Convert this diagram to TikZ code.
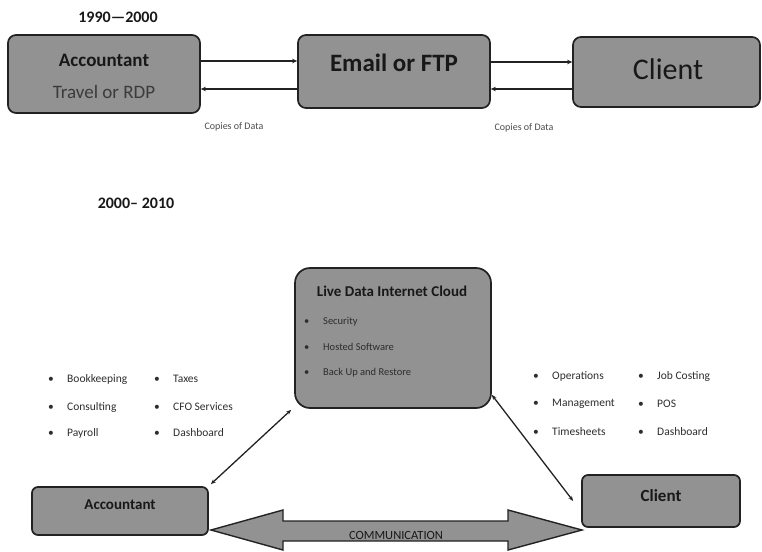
\documentclass[tikz,border=0pt]{standalone}
\usepackage{fontspec}
\setmainfont{Carlito}
\usetikzlibrary{arrows.meta}
\definecolor{boxgray}{RGB}{146,146,146}
\definecolor{edgec}{RGB}{34,34,34}
\definecolor{ink}{RGB}{24,24,24}
\definecolor{soft}{RGB}{75,75,75}
\definecolor{itemc}{RGB}{45,45,45}
\newcommand{\fsz}[1]{\fontsize{#1}{#1}\selectfont}
\newcommand{\bul}[1]{\makebox[19pt][l]{\textbullet}#1}
\begin{document}
\begin{tikzpicture}[x=1pt,y=-1pt,
  gbox/.style={draw=edgec, fill=boxgray, line width=1.7pt, rounded corners=#1, inner sep=0pt},
  lbl/.style={text=ink, inner sep=0pt},
  itemL/.style={anchor=west, inner sep=0pt, text=itemc, font=\fsz{11.5}},
  itemC/.style={anchor=west, inner sep=0pt, text=itemc, font=\fsz{10.5}},
  arr/.style={draw=edgec, line width=1.6pt, -{Stealth[length=5pt,width=4.5pt]}},
  darr/.style={draw=edgec, line width=1.3pt, {Stealth[length=5pt,width=4pt]}-{Stealth[length=5pt,width=4pt]}},
  note/.style={text=soft, font=\fsz{10}, inner sep=0pt}
]
\useasboundingbox (0,0) rectangle (762,551);
\clip (0,0) rectangle (762,551);

% ---------- 1990-2000 ----------
\node[lbl, font=\bfseries\fsz{16}] (era1) at (118,17) {1990—2000};

\node[gbox=8pt, minimum width=192pt, minimum height=78pt] (acc1) at (104,74) {};
\node[lbl, font=\bfseries\fsz{19}] (acc1a) at (104,60) {Accountant};
\node[lbl, font=\fsz{19}, text=ink!85] (acc1b) at (104,92) {Travel or RDP};

\node[gbox=8pt, minimum width=192pt, minimum height=73pt] (email) at (394,71.5) {};
\node[lbl, font=\bfseries\fsz{25}] (emailt) at (394,63) {Email or FTP};

\node[gbox=8pt, minimum width=187pt, minimum height=70pt] (cli1) at (666.5,72) {};
\node[lbl, font=\fsz{30}] (cli1t) at (668,69) {Client};

\coordinate (ya) at (0,61);
\coordinate (yb) at (0,89);
\draw[arr] (acc1.east |- ya) -- (email.west |- ya);
\draw[arr] (email.west |- yb) -- (acc1.east |- yb);
\coordinate (yc) at (0,62);
\coordinate (yd) at (0,89);
\draw[arr] (email.east |- yc) -- (cli1.west |- yc);
\draw[arr] (cli1.west |- yd) -- (email.east |- yd);

\node[note] (cd1) at (234,127) {Copies of Data};
\node[note] (cd2) at (524,128) {Copies of Data};

% ---------- 2000-2010 ----------
\node[lbl, font=\bfseries\fsz{16}] (era2) at (136,203) {2000– 2010};

\node[gbox=15pt, minimum width=196pt, minimum height=140pt] (cloud) at (393,338) {};
\node[lbl, font=\bfseries\fsz{15}] (cloudt) at (392,291) {Live Data Internet Cloud};
\node[itemC] (c1) at (304,322) {\bul{Security}};
\node[itemC] (c2) at (304,347) {\bul{Hosted Software}};
\node[itemC] (c3) at (304,373) {\bul{Back Up and Restore}};

\node[itemL] (l1) at (48,379) {\bul{Bookkeeping}};
\node[itemL] (l2) at (48,407) {\bul{Consulting}};
\node[itemL] (l3) at (48,433) {\bul{Payroll}};
\node[itemL] (l4) at (154,379) {\bul{Taxes}};
\node[itemL] (l5) at (154,407) {\bul{CFO Services}};
\node[itemL] (l6) at (154,433) {\bul{Dashboard}};

\node[itemL] (r1) at (533,376) {\bul{Operations}};
\node[itemL] (r2) at (533,404) {\bul{Management}};
\node[itemL] (r3) at (533,432) {\bul{Timesheets}};
\node[itemL] (r4) at (638,376) {\bul{Job Costing}};
\node[itemL] (r5) at (638,404) {\bul{POS}};
\node[itemL] (r6) at (638,432) {\bul{Dashboard}};

\node[gbox=6pt, minimum width=176pt, minimum height=48pt] (acc2) at (120,511) {};
\node[lbl, font=\bfseries\fsz{15}] (acc2t) at (120,505) {Accountant};

\node[gbox=6pt, minimum width=158pt, minimum height=52pt] (cli2) at (661,501) {};
\node[lbl, font=\bfseries\fsz{17}] (cli2t) at (661,496) {Client};

\draw[darr] ([shift={(2pt,2pt)}]acc2.north east) -- ([shift={(-3pt,-1pt)}]cloud.south west);
\draw[darr] ([yshift=14pt]cloud.south east) -- ([xshift=-8pt]cli2.west);

% big communication arrow
\coordinate (ltip) at (211,530);
\coordinate (rtip) at (582,530);
\draw[draw=edgec, fill=boxgray, line width=1.4pt, line join=miter]
  (ltip) -- (283,510) -- (283,521) -- (508,521) -- (508,510) -- (rtip)
  -- (508,550) -- (508,541) -- (283,541) -- (283,550) -- cycle;
\node[lbl, font=\fsz{12.5}, anchor=base] (comm) at (396,539.5) {COMMUNICATION};
\end{tikzpicture}
\end{document}
